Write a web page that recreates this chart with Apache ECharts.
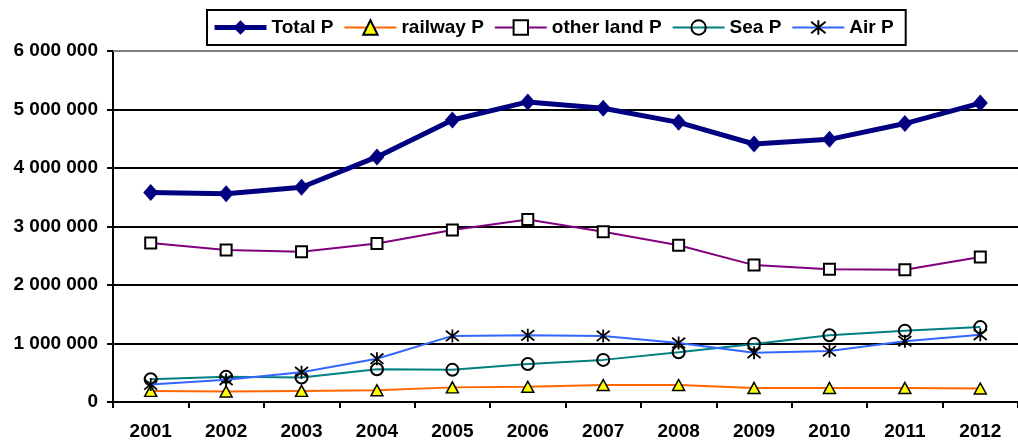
<!DOCTYPE html>
<html>
<head>
<meta charset="utf-8">
<script src="https://cdn.jsdelivr.net/npm/echarts@6/dist/echarts.min.js"></script>
<style>
  html, body { margin: 0; padding: 0; background: #fff; }
  #chart { width: 1018px; height: 443px; }
</style>
</head>
<body>
<div id="chart"></div>
<script>
// Passenger counts by mode of transport, 2001-2012
const years = ['2001', '2002', '2003', '2004', '2005', '2006', '2007', '2008', '2009', '2010', '2011', '2012'];
const totalP = [3580000, 3560000, 3670000, 4190000, 4820000, 5130000, 5020000, 4780000, 4410000, 4490000, 4760000, 5110000];
const railwayP = [190000, 180000, 190000, 200000, 250000, 260000, 290000, 290000, 240000, 240000, 240000, 230000];
const otherLandP = [2720000, 2600000, 2570000, 2710000, 2940000, 3120000, 2910000, 2680000, 2340000, 2270000, 2260000, 2480000];
const seaP = [390000, 430000, 420000, 560000, 550000, 650000, 720000, 850000, 990000, 1140000, 1220000, 1280000];
const airP = [300000, 380000, 510000, 740000, 1130000, 1140000, 1130000, 1010000, 840000, 870000, 1040000, 1150000];

const yMin = 0, yMax = 6000000, yStep = 1000000;

const FONT = '"Liberation Sans", Arial, sans-serif';
const asterisk = 'path://M0,1L10,9M10,1L0,9M5,0L5,10';

function spaced(v) {
  return String(v).replace(/\B(?=(\d{3})+(?!\d))/g, ' ');
}

const chart = echarts.init(document.getElementById('chart'), null, { renderer: 'canvas' });

chart.setOption({
  animation: false,
  backgroundColor: '#fff',
  textStyle: { fontFamily: FONT },
  legend: {
    left: 207,
    top: 10,
    padding: [8, 12, 8, 5],
    itemGap: 10,
    itemWidth: 52,
    itemHeight: 18,
    borderColor: '#000',
    borderWidth: 2,
    textStyle: { fontFamily: FONT, fontWeight: 'bold', fontSize: 19, color: '#000' },
    data: [
      { name: 'Total P', lineStyle: { width: 5 } },
      { name: 'railway P', lineStyle: { width: 2 } },
      { name: 'other land P', lineStyle: { width: 2 } },
      { name: 'Sea P', lineStyle: { width: 2 } },
      { name: 'Air P', lineStyle: { width: 2 } }
    ]
  },
  grid: { left: 113, top: 51, width: 917, height: 351, containLabel: false },
  xAxis: [{
    type: 'category',
    data: years,
    boundaryGap: true,
    axisLine: { lineStyle: { color: '#000', width: 2 } },
    axisTick: { show: true, length: 6, lineStyle: { color: '#000', width: 2 } },
    axisLabel: { margin: 20, fontFamily: FONT, fontWeight: 'bold', fontSize: 19, color: '#000' },
    splitLine: { show: false }
  }, {
    type: 'category',
    data: years,
    position: 'top',
    axisLine: { show: true, lineStyle: { color: '#808080', width: 2 } },
    axisTick: { show: false },
    axisLabel: { show: false },
    splitLine: { show: false }
  }],
  yAxis: {
    type: 'value',
    min: yMin,
    max: yMax,
    interval: yStep,
    axisLine: { show: true, lineStyle: { color: '#000', width: 2 } },
    axisTick: { show: true, length: 6, lineStyle: { color: '#000', width: 2 } },
    axisLabel: {
      margin: 15,
      fontFamily: FONT, fontWeight: 'bold', fontSize: 19, color: '#000',
      formatter: spaced
    },
    splitLine: { show: true, showMaxLine: false, lineStyle: { color: '#000', width: 2 } }
  },
  series: [
    {
      name: 'Total P',
      type: 'line',
      data: totalP,
      color: '#000080',
      lineStyle: { color: '#000080', width: 5 },
      symbol: 'diamond',
      symbolSize: [15, 17],
      itemStyle: { color: '#000080', borderWidth: 0 },
      z: 3
    },
    {
      name: 'railway P',
      type: 'line',
      data: railwayP,
      color: '#FF6600',
      lineStyle: { color: '#FF6600', width: 2 },
      symbol: 'triangle',
      symbolSize: [12, 11],
      itemStyle: { color: '#FFFF00', borderColor: '#000', borderWidth: 1.5 },
      z: 4
    },
    {
      name: 'other land P',
      type: 'line',
      data: otherLandP,
      color: '#800080',
      lineStyle: { color: '#800080', width: 2 },
      symbol: 'rect',
      symbolSize: 11,
      itemStyle: { color: '#fff', borderColor: '#000', borderWidth: 2 },
      z: 5
    },
    {
      name: 'Sea P',
      type: 'line',
      data: seaP,
      color: '#008080',
      lineStyle: { color: '#008080', width: 2 },
      symbol: 'circle',
      symbolSize: 12,
      itemStyle: { color: 'rgba(255,255,255,0)', borderColor: '#000', borderWidth: 2 },
      z: 6
    },
    {
      name: 'Air P',
      type: 'line',
      data: airP,
      color: '#3366FF',
      lineStyle: { color: '#3366FF', width: 2 },
      symbol: asterisk,
      symbolSize: 13,
      itemStyle: { color: '#000', borderColor: '#000', borderWidth: 1.8 },
      z: 7
    }
  ]
});
</script>
</body>
</html>
